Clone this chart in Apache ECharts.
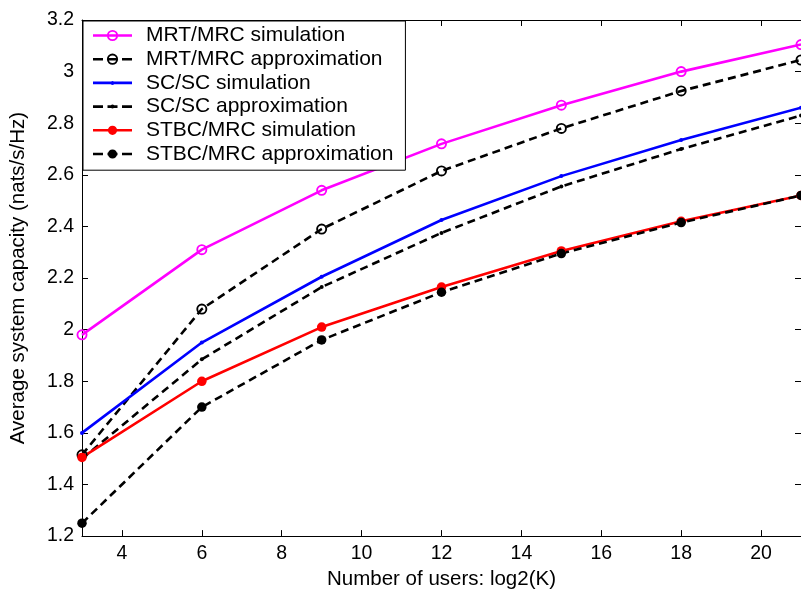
<!DOCTYPE html>
<html>
<head>
<meta charset="utf-8">
<script src="https://cdn.jsdelivr.net/npm/echarts@6/dist/echarts.min.js"></script>
<style>
  html, body { margin: 0; padding: 0; background: #fff; }
  #chart { width: 801px; height: 595px; }
</style>
</head>
<body>
<div id="chart"></div>
<script>
// Number of users, log2(K)
const xValues = [3, 6, 9, 12, 15, 18, 21];
const xTickValues = [4, 6, 8, 10, 12, 14, 16, 18, 20];

// Average system capacity (nats/s/Hz)
const mrtSim     = [1.98, 2.31, 2.54, 2.72, 2.87, 3.00, 3.105];
const mrtApprox  = [1.515, 2.08, 2.39, 2.615, 2.78, 2.925, 3.045];
const scSim      = [1.60, 1.95, 2.205, 2.425, 2.595, 2.735, 2.86];
const scApprox   = [1.50, 1.885, 2.165, 2.375, 2.555, 2.70, 2.83];
const stbcSim    = [1.505, 1.80, 2.01, 2.165, 2.305, 2.42, 2.52];
const stbcApprox = [1.25, 1.70, 1.96, 2.145, 2.295, 2.415, 2.52];

const seriesNames = [
  'MRT/MRC simulation',
  'MRT/MRC approximation',
  'SC/SC simulation',
  'SC/SC approximation',
  'STBC/MRC simulation',
  'STBC/MRC approximation'
];

const pairs = ys => xValues.map((x, i) => [x, ys[i]]);
const FONT = 'Liberation Sans, Arial, sans-serif';
const DASH = [8, 5];
const LINE_W = 2.6;

// --- symbol path helpers ---------------------------------------------
// full circle (clockwise) centred at cx, cy
function circlePath(cx, cy, r, ccw) {
  const s = ccw ? 0 : 1;
  return 'M' + cx + ',' + (cy - r) +
    ' A' + r + ',' + r + ' 0 1,' + s + ' ' + cx + ',' + (cy + r) +
    ' A' + r + ',' + r + ' 0 1,' + s + ' ' + cx + ',' + (cy - r) + ' Z';
}
// ring = outer circle minus inner circle (hollow marker)
function ringPath(cx, cy, rOut, rIn) {
  return circlePath(cx, cy, rOut, false) + ' ' + circlePath(cx, cy, rIn, true);
}
function rectPath(x0, x1, cy, h) {
  return 'M' + x0 + ',' + (cy - h / 2) + ' H' + x1 + ' V' + (cy + h / 2) + ' H' + x0 + ' Z';
}

const RING_SYMBOL = 'path://' + ringPath(0, 0, 10, 6.6);

// legend swatch: short line sample (solid or dashed) with the marker in the middle
const ICON_W = 39;
function legendIcon(dashed, marker) {
  const cy = 0;
  let p = '';
  if (dashed) {
    p += rectPath(0, 10, cy, LINE_W) + ' ' +
         rectPath(14.5, 24.5, cy, LINE_W) + ' ' +
         rectPath(29, ICON_W, cy, LINE_W);
  } else {
    p += rectPath(0, ICON_W, cy, LINE_W);
  }
  const mx = ICON_W / 2;
  if (marker === 'ring') p += ' ' + ringPath(mx, cy, 5.6, 3.7);
  else if (marker === 'dot') p += ' ' + circlePath(mx, cy, 2, false);
  else if (marker === 'disc') p += ' ' + circlePath(mx, cy, 4.6, false);
  return 'path://' + p;
}

function lineSeries(name, ys, color, dashed, marker, size) {
  const symbol = marker === 'ring' ? RING_SYMBOL : 'circle';
  return {
    name: name,
    type: 'line',
    data: pairs(ys),
    symbol: symbol,
    symbolSize: size,
    symbolKeepAspect: true,
    showSymbol: true,
    lineStyle: { color: color, width: LINE_W, type: dashed ? DASH : 'solid' },
    itemStyle: { color: color, borderWidth: 0 },
    emphasis: { disabled: true },
    animation: false
  };
}

const seriesDefs = [
  { name: seriesNames[0], ys: mrtSim,     color: '#ff00ff', dashed: false, marker: 'ring', size: 11 },
  { name: seriesNames[1], ys: mrtApprox,  color: '#000000', dashed: true,  marker: 'ring', size: 11 },
  { name: seriesNames[2], ys: scSim,      color: '#0000ff', dashed: false, marker: 'dot',  size: 4 },
  { name: seriesNames[3], ys: scApprox,   color: '#000000', dashed: true,  marker: 'dot',  size: 4 },
  { name: seriesNames[4], ys: stbcSim,    color: '#ff0000', dashed: false, marker: 'disc', size: 9.5 },
  { name: seriesNames[5], ys: stbcApprox, color: '#000000', dashed: true,  marker: 'disc', size: 9.5 }
];

const tickCommon = { inside: true, length: 6, lineStyle: { color: '#000', width: 1 } };
const axisLineCommon = { show: true, lineStyle: { color: '#000', width: 1 } };

const chart = echarts.init(document.getElementById('chart'), null, { renderer: 'canvas' });
chart.setOption({
  backgroundColor: '#fff',
  animation: false,
  textStyle: { fontFamily: FONT },
  grid: { left: 81, right: -3, top: 20, bottom: 55, containLabel: false },
  legend: {
    data: seriesDefs.map(d => ({
      name: d.name,
      icon: legendIcon(d.dashed, d.marker),
      itemStyle: { color: d.color, borderWidth: 0 }
    })),
    orient: 'vertical',
    left: 83,
    top: 21,
    padding: [4, 12, 5.7, 10],
    itemGap: 2.7,
    itemWidth: ICON_W,
    itemHeight: 14,
    symbolKeepAspect: true,
    backgroundColor: '#fff',
    borderColor: '#000',
    borderWidth: 1,
    borderRadius: 0,
    textStyle: { fontSize: 21, lineHeight: 20, color: '#000', fontFamily: FONT, padding: [0, 0, 0, 9] }
  },
  xAxis: [
    {
      type: 'value', min: 3, max: 21, position: 'bottom',
      name: 'Number of users: log2(K)', nameLocation: 'middle', nameGap: 28,
      nameTextStyle: { fontSize: 20.5, color: '#000', fontFamily: FONT },
      axisLine: axisLineCommon,
      axisTick: Object.assign({ customValues: xTickValues }, tickCommon),
      axisLabel: { customValues: xTickValues, fontSize: 19.5, color: '#000', margin: 8, fontFamily: FONT },
      splitLine: { show: false }
    },
    {
      type: 'value', min: 3, max: 21, position: 'top',
      axisLine: axisLineCommon,
      axisTick: Object.assign({ customValues: xTickValues }, tickCommon),
      axisLabel: { show: false },
      splitLine: { show: false }
    }
  ],
  yAxis: [
    {
      type: 'value', min: 1.2, max: 3.2, interval: 0.2, position: 'left',
      name: 'Average system capacity (nats/s/Hz)', nameLocation: 'middle', nameGap: 53,
      nameTextStyle: { fontSize: 20.5, color: '#000', fontFamily: FONT },
      axisLine: axisLineCommon,
      axisTick: tickCommon,
      axisLabel: {
        fontSize: 19.5, color: '#000', margin: 8, fontFamily: FONT,
        formatter: v => String(parseFloat(v.toFixed(1)))
      },
      splitLine: { show: false }
    },
    {
      type: 'value', min: 1.2, max: 3.2, interval: 0.2, position: 'right',
      axisLine: axisLineCommon,
      axisTick: tickCommon,
      axisLabel: { show: false },
      splitLine: { show: false }
    }
  ],
  series: seriesDefs.map(d => lineSeries(d.name, d.ys, d.color, d.dashed, d.marker, d.size))
});
</script>
</body>
</html>
